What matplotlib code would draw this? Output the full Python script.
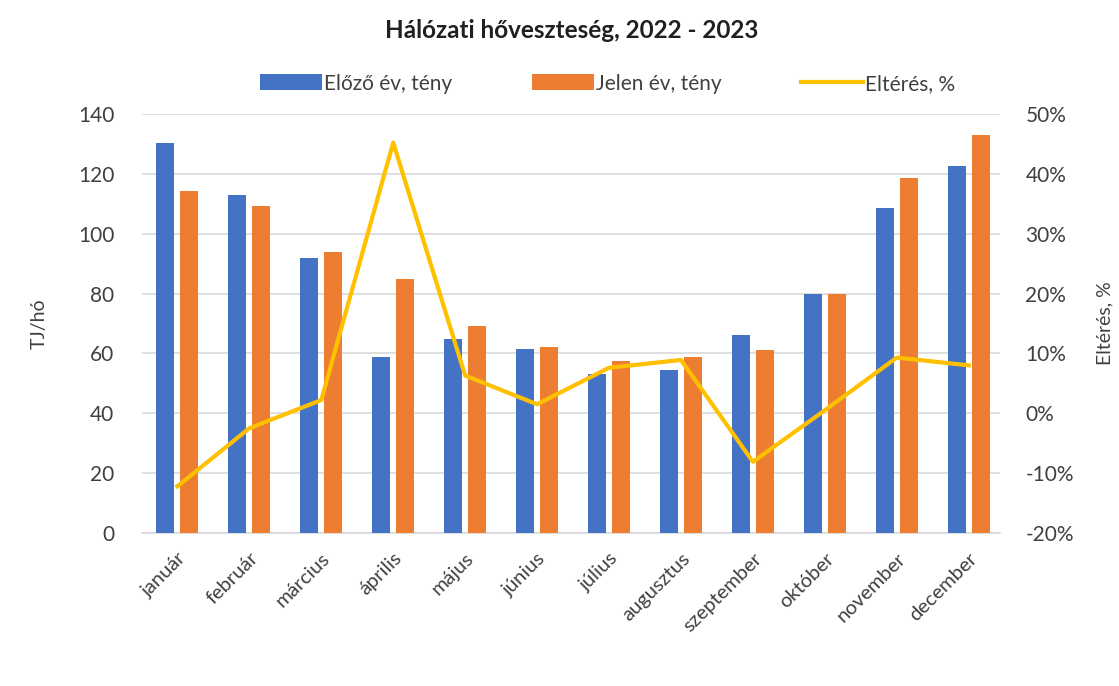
import numpy as np
import matplotlib
matplotlib.use('Agg')
import matplotlib.pyplot as plt
from matplotlib.ticker import FuncFormatter, MultipleLocator

plt.rcParams['font.family'] = ['Lato', 'DejaVu Sans']

BLUE = '#4472C4'
ORANGE = '#ED7D31'
YELLOW = '#FFC000'
GRID = '#D9D9D9'
TEXT = '#404040'

months = ['január', 'február', 'március', 'április', 'május', 'június',
          'július', 'augusztus', 'szeptember', 'október', 'november', 'december']
prev_year = [130.4, 112.9, 91.9, 58.8, 64.8, 61.6, 53.2, 54.3, 66.2, 79.7, 108.6, 122.7]
this_year = [114.3, 109.3, 93.8, 84.9, 69.0, 62.3, 57.4, 58.8, 61.2, 79.8, 118.6, 132.9]
diff_pct = [-12.2, -2.5, 2.2, 45.2, 6.3, 1.5, 7.6, 8.9, -8.1, 0.5, 9.3, 8.0]


def main():
    fig = plt.figure(figsize=(11.19, 6.86), dpi=100)
    ax = fig.add_axes([0.127, 0.223, 0.767, 0.611])
    ax2 = ax.twinx()

    x = np.arange(len(months))
    w = 0.25
    off = 0.167
    b1 = ax.bar(x - off, prev_year, w, color=BLUE, label='Előző év, tény', zorder=3)
    b2 = ax.bar(x + off, this_year, w, color=ORANGE, label='Jelen év, tény', zorder=3)
    ln, = ax2.plot(x, diff_pct, color=YELLOW, lw=3.0, label='Eltérés, %', zorder=4)

    ax.set_xlim(-0.49, 11.44)
    ax.set_ylim(0, 140)
    ax.yaxis.set_major_locator(MultipleLocator(20))
    ax2.set_ylim(-20, 50)
    ax2.yaxis.set_major_locator(MultipleLocator(10))
    ax2.yaxis.set_major_formatter(FuncFormatter(lambda v, p: f'{v:.0f}%'))

    ax.grid(axis='y', color=GRID, lw=1.2, zorder=0)
    ax.set_axisbelow(True)
    for a in (ax, ax2):
        for s in a.spines.values():
            s.set_visible(False)
    ax.spines['bottom'].set_visible(True)
    ax.spines['bottom'].set_color(GRID)
    ax.spines['bottom'].set_linewidth(1.2)

    ax.set_xticks(x)
    ax.set_xticklabels(months, rotation=45, ha='right', rotation_mode='anchor',
                       fontsize=14.5, color=TEXT)
    ax.tick_params(axis='x', length=0, pad=12)
    ax.tick_params(axis='y', length=0, pad=20, labelsize=15, labelcolor=TEXT)
    ax2.tick_params(axis='y', length=0, pad=18, labelsize=15, labelcolor=TEXT)

    ax.set_ylabel('TJ/hó', fontsize=14, color=TEXT, labelpad=22)
    ax2.set_ylabel('Eltérés, %', fontsize=14, color=TEXT, labelpad=16)

    fig.text(0.511, 0.956, 'Hálózati hőveszteség, 2022 - 2023', ha='center', va='center',
             fontsize=17.5, fontweight='bold', color='#202020')

    fig.legend(handles=[b1, b2, ln], loc='center', bbox_to_anchor=(0.543, 0.878),
               ncol=3, frameon=False, fontsize=15, handlelength=3.0, handleheight=0.8,
               handletextpad=0.1, columnspacing=3.8, labelcolor=TEXT)

    fig.savefig('out.png', dpi=100, facecolor='white')
    plt.close(fig)


if __name__ == '__main__':
    main()
